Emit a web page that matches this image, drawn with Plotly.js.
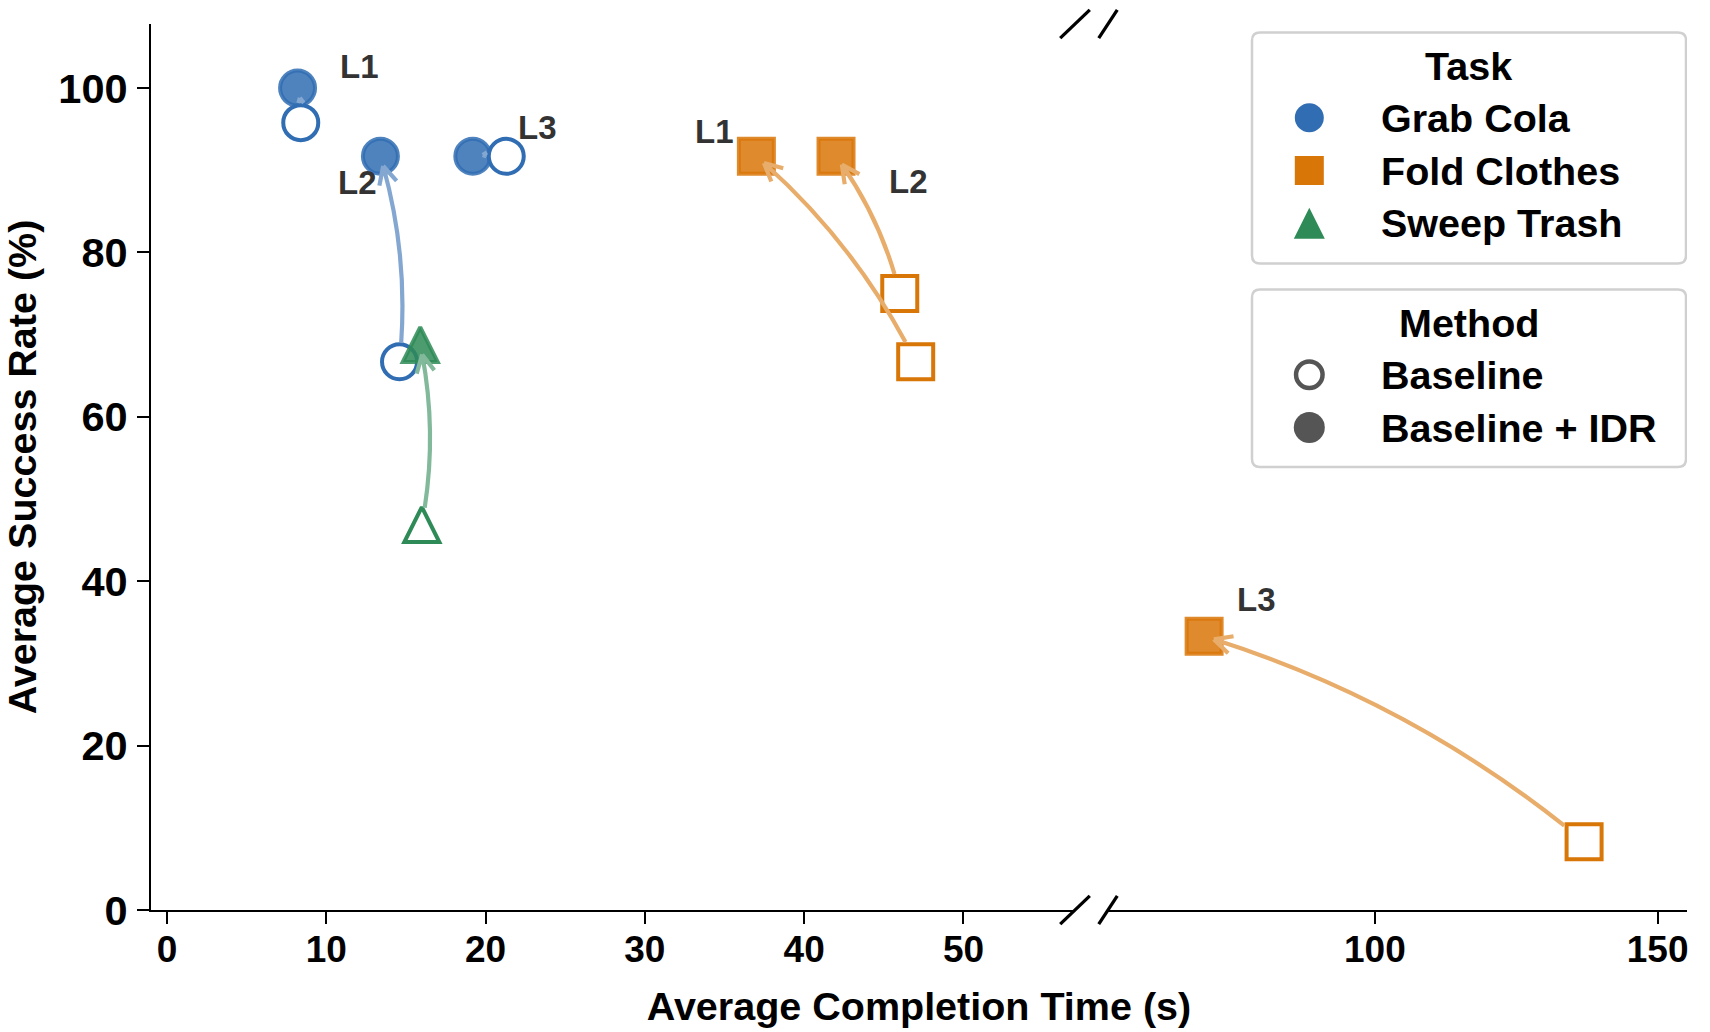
<!DOCTYPE html>
<html>
<head>
<meta charset="utf-8">
<script src="https://cdn.plot.ly/plotly-3.0.1.min.js"></script>
<style>html,body{margin:0;padding:0;background:#fff}#chart{width:1710px;height:1032px}</style>
</head>
<body>
<div id="chart"></div>
<script>
// ---------------- data ----------------
const tasks = ['Grab Cola', 'Fold Clothes', 'Sweep Trash'];
const methods = ['Baseline', 'Baseline + IDR'];

const colaLevels = ['L1', 'L2', 'L3'];
const colaBaseTime = [8.4, 14.6, 21.3];
const colaBaseRate = [95.8, 66.7, 91.7];
const colaIdrTime = [8.2, 13.4, 19.2];
const colaIdrRate = [100, 91.7, 91.7];

const foldLevels = ['L1', 'L2', 'L3'];
const foldBaseTime = [47.0, 46.0, 137.0];
const foldBaseRate = [66.7, 75.0, 8.3];
const foldIdrTime = [37.0, 42.0, 69.8];
const foldIdrRate = [91.7, 91.7, 33.3];

const sweepLevels = [''];
const sweepBaseTime = [16.0];
const sweepBaseRate = [46.9];
const sweepIdrTime = [15.9];
const sweepIdrRate = [68.8];

const xTicksLeft = [0, 10, 20, 30, 40, 50];
const xTicksRight = [100, 150];
const yTicks = [0, 20, 40, 60, 80, 100];

const xTitle = 'Average Completion Time (s)';
const yTitle = 'Average Success Rate (%)';
const taskLegendTitle = 'Task';
const methodLegendTitle = 'Method';

// ---------------- styles & geometry ----------------
const FONT = 'Liberation Sans, Arial, Helvetica, sans-serif';
const W = 1710, H = 1032;
const M = {l: 151, r: 23, t: 24, b: 122};
const PW = W - M.l - M.r, PH = H - M.t - M.b;
const LEFT_W = 924, GAP = 33;
const domL = [0, LEFT_W / PW], domR = [(LEFT_W + GAP) / PW, 1];
const xRangeL = [-1, 57], xRangeR = [52.8, 155.2], yRange = [0, 107.8];

const STYLE = {
  'Grab Cola':    {rgb: [48, 109, 179], symbol: 'circle',
                   labels: [[62, -21.6], [-23.3, 25.7], [64.8, -28.4]]},
  'Fold Clothes': {rgb: [217, 118, 8], symbol: 'square',
                   labels: [[-42, -24.5], [72.5, 25.5], [52, -37]]},
  'Sweep Trash':  {rgb: [46, 139, 87], symbol: 'triangle', labels: [[0, 0]]}
};
const MS = 35, MLW = 4, IDR_ALPHA = 0.85;
const ARROW_W = 4.2, ARROW_MIX = 0.6, ARC_RAD = 0.1, SHRINK_END = 10;
const HEAD_LEN = 20, HEAD_ANG = 26.6 * Math.PI / 180;

const rgba = (c, a) => `rgba(${c[0]},${c[1]},${c[2]},${a})`;
const mix = (c, f) => `rgb(${c.map(v => Math.round(v * f + 255 * (1 - f))).join(',')})`;

function markerFor(symbol, size, fill, line, lw) {
  const m = {size: size, color: fill, line: {color: line, width: lw}};
  if (symbol === 'triangle') {
    m.symbol = 'arrow-down'; m.angle = 180; m.standoff = size / 2;
  } else {
    m.symbol = symbol;
  }
  return m;
}

const AX = {
  x:  {off: M.l + domL[0] * PW, len: (domL[1] - domL[0]) * PW, r: xRangeL},
  x2: {off: M.l + domR[0] * PW, len: (domR[1] - domR[0]) * PW, r: xRangeR}
};
const xToPx = (ax, v) => { const a = AX[ax]; return a.off + (v - a.r[0]) / (a.r[1] - a.r[0]) * a.len; };
const pxToX = (ax, p) => { const a = AX[ax]; return a.r[0] + (p - a.off) / a.len * (a.r[1] - a.r[0]); };
const yToPx = v => M.t + PH - (v - yRange[0]) / (yRange[1] - yRange[0]) * PH;
const pxToY = p => yRange[0] + (M.t + PH - p) / PH * (yRange[1] - yRange[0]);
const sideOf = t => (t <= xRangeL[1] ? 'x' : 'x2');

const TASKS = [
  {name: tasks[0], levels: colaLevels, bt: colaBaseTime, br: colaBaseRate, it: colaIdrTime, ir: colaIdrRate},
  {name: tasks[1], levels: foldLevels, bt: foldBaseTime, br: foldBaseRate, it: foldIdrTime, ir: foldIdrRate},
  {name: tasks[2], levels: sweepLevels, bt: sweepBaseTime, br: sweepBaseRate, it: sweepIdrTime, ir: sweepIdrRate}
];

// ---------------- traces ----------------
const traces = [];
TASKS.forEach(task => {
  const st = STYLE[task.name];
  [['idr', task.it, task.ir], ['base', task.bt, task.br]].forEach(([kind, T, R]) => {
    ['x', 'x2'].forEach(ax => {
      const idx = T.map((_, i) => i).filter(i => sideOf(T[i]) === ax);
      if (!idx.length) return;
      const marker = kind === 'idr'
        ? markerFor(st.symbol, MS, rgba(st.rgb, IDR_ALPHA), rgba(st.rgb, IDR_ALPHA), MLW)
        : markerFor(st.symbol, MS, '#ffffff', rgba(st.rgb, 1), MLW);
      traces.push({
        type: 'scatter', mode: 'markers', xaxis: ax, yaxis: 'y',
        x: idx.map(i => T[i]), y: idx.map(i => R[i]),
        name: task.name + ' — ' + (kind === 'idr' ? methods[1] : methods[0]),
        text: idx.map(i => task.levels[i]),
        showlegend: false, hoverinfo: 'name+text+x+y', marker: marker, cliponaxis: false
      });
    });
  });
});

// ---------------- curved arrows (baseline -> IDR) ----------------
const shapes = [];
function exitMetric(symbol, dx, dy) {
  if (symbol === 'square') return Math.max(Math.abs(dx), Math.abs(dy));
  if (symbol === 'triangle') return Math.hypot(dx, dy) * 1.15;
  return Math.hypot(dx, dy);
}
TASKS.forEach(task => {
  const st = STYLE[task.name];
  task.bt.forEach((_, i) => {
    const ax = sideOf(task.it[i]);
    const P0 = [xToPx(ax, task.bt[i]), yToPx(task.br[i])];
    const P2 = [xToPx(ax, task.it[i]), yToPx(task.ir[i])];
    // matplotlib arc3 control point (display coords with y up)
    const dx = P2[0] - P0[0], dyUp = -(P2[1] - P0[1]);
    const C = [(P0[0] + P2[0]) / 2 + ARC_RAD * dyUp, (P0[1] + P2[1]) / 2 + ARC_RAD * dx];
    const B = t => [
      (1 - t) * (1 - t) * P0[0] + 2 * (1 - t) * t * C[0] + t * t * P2[0],
      (1 - t) * (1 - t) * P0[1] + 2 * (1 - t) * t * C[1] + t * t * P2[1]];
    const half = (MS + MLW) / 2;
    const inside = p => exitMetric(st.symbol, p[0] - P0[0], p[1] - P0[1]) < half;
    let t0 = 0;
    while (t0 < 1 && inside(B(t0))) t0 += 0.001;
    let t1 = 1;
    while (t1 > 0 && Math.hypot(B(t1)[0] - P2[0], B(t1)[1] - P2[1]) < SHRINK_END) t1 -= 0.001;
    if (t1 <= t0) return;
    const S = B(t0), E = B(t1);
    const Cs = [0, 1].map(k => (1 - t0) * (1 - t1) * P0[k] + ((1 - t0) * t1 + t0 * (1 - t1)) * C[k] + t0 * t1 * P2[k]);
    const conv = p => `${pxToX(ax, p[0]).toFixed(4)},${pxToY(p[1]).toFixed(4)}`;
    let path = `M${conv(S)} Q${conv(Cs)} ${conv(E)}`;
    // open arrow head ("->")
    let ux = E[0] - Cs[0], uy = E[1] - Cs[1];
    const n = Math.hypot(ux, uy); ux /= n; uy /= n;
    [-HEAD_ANG, HEAD_ANG].forEach(a => {
      const bx = -(ux * Math.cos(a) - uy * Math.sin(a));
      const by = -(ux * Math.sin(a) + uy * Math.cos(a));
      let L = 0;
      while (L < HEAD_LEN && !inside([E[0] + bx * (L + 0.5), E[1] + by * (L + 0.5)])) L += 0.5;
      if (L > 1) path += ` M${conv(E)} L${conv([E[0] + bx * L, E[1] + by * L])}`;
    });
    shapes.push({type: 'path', xref: ax, yref: 'y', path: path, layer: 'above',
                 line: {color: mix(st.rgb, ARROW_MIX), width: ARROW_W}});
  });
});

// ---------------- level labels ----------------
const annotations = [];
TASKS.forEach(task => {
  const st = STYLE[task.name];
  task.levels.forEach((lab, i) => {
    if (!lab) return;
    const ax = sideOf(task.it[i]);
    annotations.push({xref: ax, yref: 'y', x: task.it[i], y: task.ir[i], text: lab,
      showarrow: false, xanchor: 'center', yanchor: 'middle',
      xshift: st.labels[i][0], yshift: -st.labels[i][1],
      font: {family: FONT, size: 33, color: '#333333', weight: 700}});
  });
});

// ---------------- broken-axis marks ----------------
const D = 0.016, BRK = {color: '#000000', width: 3.3};
[0, 1].forEach(yc => {
  const wl = domL[1] - domL[0], wr = domR[1] - domR[0];
  shapes.push({type: 'line', xref: 'paper', yref: 'paper', x0: domL[1] - D * wl, x1: domL[1] + D * wl,
               y0: yc - D, y1: yc + D, line: BRK});
  shapes.push({type: 'line', xref: 'paper', yref: 'paper', x0: domR[0] - D * wr, x1: domR[0] + D * wr,
               y0: yc - D, y1: yc + D, line: BRK});
});

// ---------------- legends (drawn on an auxiliary pixel axis) ----------------
const LEG = {x0: 1252, x1: 1686, rad: 8, markerX: 1309.3, textX: 1379, titleX: 1468.5,
             titleDy: 33.3, firstDy: 85.2, gap: 52.8, fs: 39.5,
             boxes: [{top: 32.5, bottom: 263.5}, {top: 289.5, bottom: 467}]};
const legendGroups = [
  {title: taskLegendTitle, items: tasks.map(t => ({label: t, symbol: STYLE[t].symbol,
      fill: rgba(STYLE[t].rgb, 1), line: rgba(STYLE[t].rgb, 1), size: STYLE[t].symbol === 'triangle' ? 31 : 29, lw: 0}))},
  {title: methodLegendTitle, items: [
      {label: methods[0], symbol: 'circle', fill: '#ffffff', line: '#555555', size: 26.5, lw: 4.5},
      {label: methods[1], symbol: 'circle', fill: '#555555', line: '#555555', size: 31, lw: 0}]}
];
legendGroups.forEach((g, gi) => {
  const box = LEG.boxes[gi];
  const x0 = LEG.x0, x1 = LEG.x1, y0 = box.top, y1 = box.bottom, r = LEG.rad;
  shapes.push({type: 'path', xref: 'x3', yref: 'y3', layer: 'below', fillcolor: '#ffffff',
    line: {color: '#d0d0d0', width: 2.5},
    path: `M${x0 + r},${y0} H${x1 - r} Q${x1},${y0} ${x1},${y0 + r} V${y1 - r} Q${x1},${y1} ${x1 - r},${y1} ` +
          `H${x0 + r} Q${x0},${y1} ${x0},${y1 - r} V${y0 + r} Q${x0},${y0} ${x0 + r},${y0} Z`});
  annotations.push({xref: 'x3', yref: 'y3', x: LEG.titleX, y: y0 + LEG.titleDy, text: g.title,
    showarrow: false, xanchor: 'center', yanchor: 'middle',
    font: {family: FONT, size: LEG.fs, color: '#000000', weight: 700}});
  g.items.forEach((it, k) => {
    const yy = y0 + LEG.firstDy + k * LEG.gap;
    traces.push({type: 'scatter', mode: 'markers', xaxis: 'x3', yaxis: 'y3', x: [LEG.markerX], y: [yy],
      showlegend: false, hoverinfo: 'skip', cliponaxis: false,
      marker: markerFor(it.symbol, it.size, it.fill, it.line, it.lw)});
    annotations.push({xref: 'x3', yref: 'y3', x: LEG.textX, y: yy, text: it.label,
      showarrow: false, xanchor: 'left', yanchor: 'middle',
      font: {family: FONT, size: LEG.fs, color: '#000000', weight: 700}});
  });
});

// ---------------- layout ----------------
const tickFont = {family: FONT, size: 37, color: '#000000', weight: 700};
const axisCommon = {showline: true, linecolor: '#000000', linewidth: 2.3, ticks: 'outside', ticklen: 12,
  tickwidth: 2.3, tickcolor: '#000000', showgrid: false, zeroline: false, tickfont: tickFont,
  fixedrange: true};

const layout = {
  width: W, height: H, margin: M, paper_bgcolor: '#ffffff', plot_bgcolor: 'rgba(0,0,0,0)',
  showlegend: false, font: {family: FONT},
  xaxis: Object.assign({}, axisCommon, {domain: domL, range: xRangeL, anchor: 'y', tickvals: xTicksLeft,
    ticklabelstandoff: -7}),
  xaxis2: Object.assign({}, axisCommon, {domain: domR, range: xRangeR, anchor: 'y', tickvals: xTicksRight,
    ticklabelstandoff: -7}),
  yaxis: Object.assign({}, axisCommon, {domain: [0, 1], range: yRange, anchor: 'x', tickvals: yTicks,
    ticklabelstandoff: 1, tickfont: Object.assign({}, tickFont, {size: 41.5}),
    title: {text: yTitle, font: {family: FONT, size: 39.5, color: '#000000', weight: 700}, standoff: 17}}),
  xaxis3: {domain: [0, 1], range: [M.l, M.l + PW], anchor: 'y3', showline: false, showgrid: false,
    zeroline: false, ticks: '', showticklabels: false, fixedrange: true,
    title: {text: xTitle, font: {family: FONT, size: 39.5, color: '#000000', weight: 700}, standoff: 82}},
  yaxis3: {domain: [0, 1], range: [M.t + PH, M.t], anchor: 'x3', visible: false, fixedrange: true},
  shapes: shapes,
  annotations: annotations
};

Plotly.newPlot('chart', traces, layout, {displayModeBar: false, responsive: false});
</script>
</body>
</html>
